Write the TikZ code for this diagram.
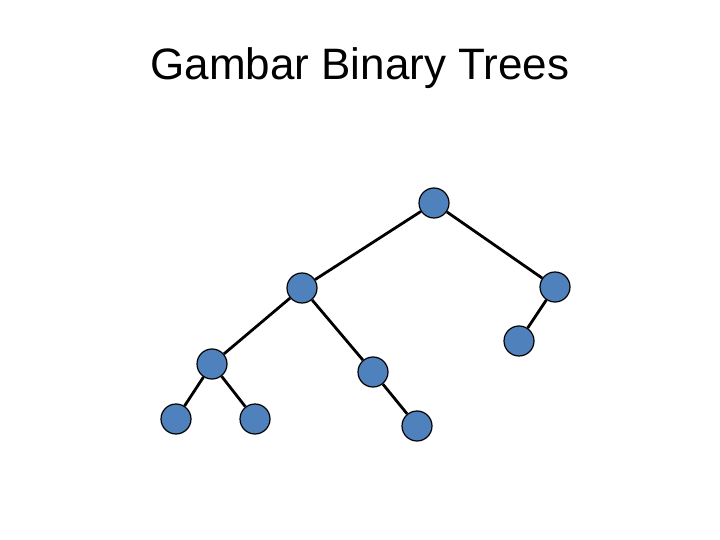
\documentclass[tikz,border=0pt]{standalone}
\usepackage{fontspec}
\setmainfont{Liberation Sans}
\definecolor{nodeblue}{HTML}{4F81BD}
\begin{document}
\begin{tikzpicture}[x=1pt,y=-1pt,
  tn/.style={circle,draw=black,line width=1.2pt,fill=nodeblue,minimum size=30pt,inner sep=0pt},
  ed/.style={line width=2.8pt}]
\useasboundingbox (0,0) rectangle (720,540);
\node[font=\fontsize{44}{48}\selectfont] (title) at (360,68) {Gambar Binary Trees};
\node[tn] (r) at (434,203) {};
\node[tn] (a) at (302,288) {};
\node[tn] (b) at (555,287) {};
\node[tn] (c) at (212,364) {};
\node[tn] (d) at (373,372) {};
\node[tn] (e) at (519,341) {};
\node[tn] (f) at (176,419) {};
\node[tn] (g) at (255,419) {};
\node[tn] (h) at (417,426) {};
\draw[ed] (r)--(a); \draw[ed] (r)--(b);
\draw[ed] (a)--(c); \draw[ed] (a)--(d);
\draw[ed] (b)--(e);
\draw[ed] (c)--(f); \draw[ed] (c)--(g);
\draw[ed] (d)--(h);
\end{tikzpicture}
\end{document}
